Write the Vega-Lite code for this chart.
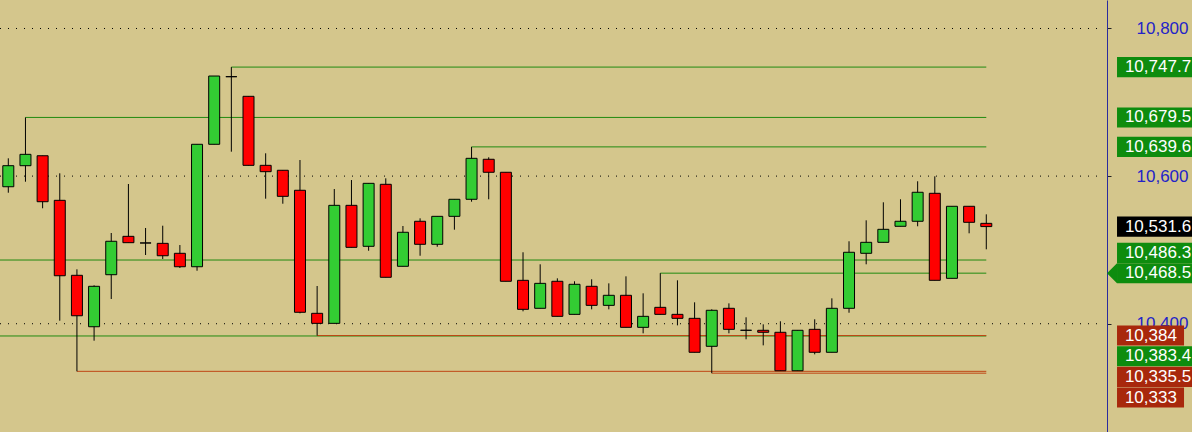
{
  "$schema": "https://vega.github.io/schema/vega-lite/v6.json",
  "width": 1192,
  "height": 432,
  "autosize": {"type": "none"},
  "padding": 0,
  "background": "#D4C68C",
  "config": {"view": {"stroke": null}, "font": "Liberation Sans", "numberFormat": ","},
  "datasets": {
    "candles": [
      {"i":0,"o":10585.6,"h":10624.1,"l":10577.5,"c":10614.1},
      {"i":1,"o":10614.1,"h":10679.5,"l":10592.4,"c":10629.5},
      {"i":2,"o":10627.6,"h":10627.6,"l":10556.4,"c":10565.3},
      {"i":3,"o":10567.2,"h":10603.8,"l":10404.1,"c":10465.0},
      {"i":4,"o":10465.6,"h":10473.7,"l":10335.5,"c":10410.8},
      {"i":5,"o":10395.9,"h":10452.0,"l":10377.0,"c":10450.7},
      {"i":6,"o":10466.4,"h":10522.9,"l":10433.5,"c":10511.7},
      {"i":7,"o":10518.4,"h":10589.3,"l":10509.8,"c":10509.8},
      {"i":8,"o":10509.4,"h":10529.7,"l":10493.1,"c":10509.4},
      {"i":9,"o":10508.9,"h":10532.8,"l":10487.7,"c":10492.1},
      {"i":10,"o":10495.4,"h":10506.6,"l":10475.5,"c":10477.2},
      {"i":11,"o":10477.2,"h":10643.1,"l":10471.8,"c":10643.1},
      {"i":12,"o":10643.1,"h":10735.6,"l":10643.1,"c":10735.6},
      {"i":13,"o":10734.7,"h":10747.7,"l":10633.1,"c":10734.7},
      {"i":14,"o":10708.1,"h":10708.1,"l":10614.6,"c":10614.6},
      {"i":15,"o":10614.6,"h":10630.9,"l":10569.4,"c":10606.0},
      {"i":16,"o":10607.9,"h":10607.9,"l":10562.6,"c":10572.6},
      {"i":17,"o":10580.8,"h":10621.8,"l":10414.1,"c":10415.5},
      {"i":18,"o":10414.1,"h":10451.1,"l":10384.0,"c":10400.5},
      {"i":19,"o":10400.5,"h":10582.5,"l":10400.5,"c":10560.4},
      {"i":20,"o":10560.4,"h":10594.7,"l":10503.5,"c":10503.5},
      {"i":21,"o":10504.9,"h":10590.2,"l":10498.9,"c":10590.2},
      {"i":22,"o":10588.9,"h":10597.0,"l":10462.9,"c":10462.9},
      {"i":23,"o":10477.8,"h":10532.4,"l":10477.8,"c":10523.9},
      {"i":24,"o":10538.8,"h":10542.8,"l":10492.1,"c":10507.6},
      {"i":25,"o":10507.6,"h":10545.5,"l":10504.3,"c":10545.5},
      {"i":26,"o":10545.5,"h":10568.6,"l":10527.4,"c":10568.6},
      {"i":27,"o":10568.6,"h":10639.6,"l":10565.3,"c":10624.1},
      {"i":28,"o":10622.8,"h":10625.5,"l":10568.6,"c":10605.2},
      {"i":29,"o":10605.2,"h":10605.2,"l":10457.5,"c":10457.5},
      {"i":30,"o":10458.8,"h":10496.8,"l":10416.8,"c":10419.5},
      {"i":31,"o":10420.9,"h":10480.5,"l":10420.9,"c":10454.7},
      {"i":32,"o":10457.5,"h":10461.5,"l":10410.0,"c":10410.0},
      {"i":33,"o":10412.7,"h":10457.5,"l":10412.7,"c":10453.4},
      {"i":34,"o":10450.7,"h":10460.2,"l":10419.5,"c":10424.9},
      {"i":35,"o":10424.9,"h":10454.7,"l":10419.5,"c":10438.5},
      {"i":36,"o":10438.5,"h":10464.2,"l":10395.1,"c":10395.1},
      {"i":37,"o":10395.1,"h":10441.2,"l":10387.0,"c":10410.0},
      {"i":38,"o":10422.2,"h":10468.5,"l":10412.7,"c":10412.7},
      {"i":39,"o":10412.7,"h":10458.8,"l":10397.8,"c":10407.3},
      {"i":40,"o":10407.3,"h":10429.0,"l":10361.3,"c":10361.3},
      {"i":41,"o":10369.4,"h":10419.5,"l":10333.0,"c":10418.2},
      {"i":42,"o":10420.9,"h":10427.6,"l":10387.0,"c":10392.4},
      {"i":43,"o":10391.1,"h":10408.7,"l":10378.9,"c":10391.1},
      {"i":44,"o":10391.1,"h":10399.2,"l":10370.7,"c":10388.4},
      {"i":45,"o":10388.4,"h":10403.3,"l":10336.3,"c":10336.3},
      {"i":46,"o":10336.3,"h":10391.1,"l":10336.3,"c":10391.1},
      {"i":47,"o":10392.4,"h":10406.0,"l":10358.5,"c":10361.3},
      {"i":48,"o":10361.3,"h":10434.4,"l":10361.3,"c":10420.9},
      {"i":49,"o":10420.9,"h":10511.7,"l":10414.9,"c":10496.8},
      {"i":50,"o":10495.4,"h":10540.1,"l":10480.5,"c":10510.3},
      {"i":51,"o":10510.3,"h":10564.5,"l":10510.3,"c":10527.9},
      {"i":52,"o":10532.0,"h":10568.6,"l":10532.0,"c":10538.8},
      {"i":53,"o":10538.8,"h":10593.0,"l":10532.0,"c":10578.1},
      {"i":54,"o":10576.7,"h":10599.7,"l":10458.8,"c":10458.8},
      {"i":55,"o":10461.5,"h":10559.1,"l":10461.5,"c":10559.1},
      {"i":56,"o":10559.1,"h":10559.1,"l":10522.5,"c":10537.4},
      {"i":57,"o":10536.0,"h":10548.2,"l":10500.8,"c":10531.6}
    ],
    "levels": [
      {"price":10747.7,"start":13,"end":57,"kind":"green"},
      {"price":10679.5,"start":1,"end":57,"kind":"green"},
      {"price":10639.6,"start":27,"end":57,"kind":"green"},
      {"price":10486.3,"start":-1,"end":57,"kind":"green"},
      {"price":10468.5,"start":38,"end":57,"kind":"green"},
      {"price":10383.4,"start":-1,"end":57,"kind":"green"},
      {"price":10384.0,"start":18,"end":57,"kind":"red"},
      {"price":10335.5,"start":4,"end":57,"kind":"red"},
      {"price":10333.0,"start":41,"end":57,"kind":"red"}
    ],
    "labels": [
      {"price":10747.7,"at":10747.7,"kind":"green"},
      {"price":10679.5,"at":10679.5,"kind":"green"},
      {"price":10639.6,"at":10639.6,"kind":"green"},
      {"price":10531.6,"at":10531.6,"kind":"black"},
      {"price":10486.3,"at":10496.0,"kind":"green"},
      {"price":10468.5,"at":10468.5,"kind":"green"},
      {"price":10384.0,"at":10384.0,"kind":"red"},
      {"price":10383.4,"at":10356.0,"kind":"green"},
      {"price":10335.5,"at":10328.0,"kind":"red"},
      {"price":10333.0,"at":10300.0,"kind":"red"}
    ],
    "grid": [{"price":10400},{"price":10600},{"price":10800}]
  },
  "layer": [
    {
      "data": {"name": "grid"},
      "transform": [
        {"calculate": "-0.484", "as": "gx0"},
        {"calculate": "63.7", "as": "gx1"}
      ],
      "mark": {"type": "rule", "stroke": "#000000", "strokeWidth": 1, "strokeDash": [1, 7]},
      "encoding": {
        "x": {"field": "gx0", "type": "quantitative", "scale": {"domain": [-0.484, 68.99], "nice": false, "zero": false, "padding": 0}, "axis": null},
        "x2": {"field": "gx1"},
        "y": {"field": "price", "type": "quantitative", "title": null, "scale": {"domain": [10253.3, 10838.6], "nice": false, "zero": false, "padding": 0},
          "axis": {"orient": "right", "offset": -85, "values": [10400, 10600, 10800], "format": ",", "labelExpr": "format(datum.value, ',')", "grid": false, "title": null,
            "domainColor": "#2B2B9E", "domainWidth": 1, "tickColor": "#222222", "tickSize": 4, "labelColor": "#2323C8",
            "labelFontSize": 17, "labelFont": "Liberation Sans", "labelAlign": "right", "labelBaseline": "middle", "labelPadding": 77, "zindex": 0}}
      }
    },
    {
      "data": {"name": "levels"},
      "mark": {"type": "rule", "strokeWidth": 1, "clip": true},
      "encoding": {
        "x": {"field": "start", "type": "quantitative", "axis": null},
        "x2": {"field": "end"},
        "y": {"field": "price", "type": "quantitative", "title": null},
        "stroke": {"field": "kind", "type": "nominal", "scale": {"domain": ["green", "red"], "range": ["#218A10", "#BE4614"]}, "legend": null}
      }
    },
    {
      "data": {"name": "candles"},
      "mark": {"type": "rule", "stroke": "#000000", "strokeWidth": 1},
      "encoding": {
        "x": {"field": "i", "type": "quantitative", "axis": null},
        "y": {"field": "l", "type": "quantitative", "title": null},
        "y2": {"field": "h"}
      }
    },
    {
      "data": {"name": "candles"},
      "mark": {"type": "bar", "width": 11, "stroke": "#000000", "strokeWidth": 1},
      "encoding": {
        "x": {"field": "i", "type": "quantitative", "axis": null},
        "y": {"field": "o", "type": "quantitative", "title": null},
        "y2": {"field": "c"},
        "fill": {"condition": {"test": "datum.c > datum.o", "value": "#33CC33"}, "value": "#FF0000"}
      }
    },
    {
      "data": {"name": "labels"},
      "transform": [
        {"calculate": "datum.at + 13.6", "as": "top"},
        {"calculate": "datum.at - 13.6", "as": "bottom"},
        {"calculate": "64.62", "as": "boxStart"},
        {"calculate": "64.62 + (length(format(datum.price, ',')) * 8.5 + 16) / 17.158", "as": "boxEnd"},
        {"calculate": "65.08", "as": "textX"}
      ],
      "layer": [
        {
          "mark": {"type": "rect", "clip": true},
          "encoding": {
            "x": {"field": "boxStart", "type": "quantitative", "axis": null},
            "x2": {"field": "boxEnd"},
            "y": {"field": "top", "type": "quantitative", "title": null},
            "y2": {"field": "bottom"},
            "fill": {"field": "kind", "type": "nominal", "scale": {"domain": ["green", "red", "black"], "range": ["#0E8C0E", "#A8280C", "#000000"]}, "legend": null}
          }
        },
        {
          "transform": [{"filter": "datum.price == 10468.5"}],
          "mark": {"type": "point", "shape": "M0,-1L-1,0L0,1Z", "size": 400, "filled": true, "fill": "#0E8C0E", "opacity": 1, "strokeWidth": 0},
          "encoding": {
            "x": {"field": "boxStart", "type": "quantitative", "axis": null},
            "y": {"field": "price", "type": "quantitative", "title": null}
          }
        },
        {
          "mark": {"type": "text", "align": "left", "baseline": "middle", "fontSize": 17, "font": "Liberation Sans", "fill": "#FFFFFF", "clip": true},
          "encoding": {
            "x": {"field": "textX", "type": "quantitative", "axis": null},
            "y": {"field": "at", "type": "quantitative", "title": null},
            "text": {"field": "price", "type": "quantitative", "format": ","}
          }
        }
      ]
    }
  ]
}
